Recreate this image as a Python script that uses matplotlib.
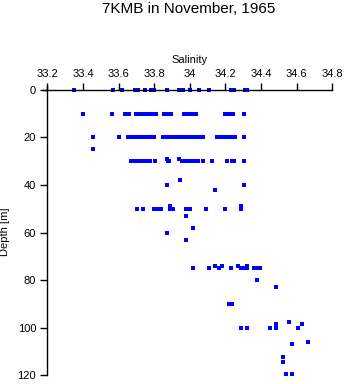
import numpy as np
import matplotlib
matplotlib.use("Agg")
import matplotlib.pyplot as plt
from matplotlib.ticker import FuncFormatter

plt.rcParams['font.family'] = ['Liberation Sans', 'DejaVu Sans']

# Salinity readings grouped by sampling depth (m)
sal_0 = [33.35, 33.57, 33.62, 33.69, 33.71, 33.75, 33.78, 33.80, 33.87, 33.94,
         33.96, 34.00, 34.05, 34.11, 34.23, 34.25, 34.31, 34.32]
sal_10 = [33.40, 33.565, 33.635, 33.65, 33.66, 33.70, 33.72, 33.735, 33.75, 33.77,
          33.78, 33.80, 33.81, 33.855, 33.87, 33.885, 33.895, 33.965, 33.98,
          33.99, 34.015, 34.035, 34.20, 34.22, 34.24, 34.306]
sal_20 = [33.455, 33.60, 33.655, 33.668, 33.683, 33.705, 33.72, 33.739, 33.758,
          33.78, 33.80, 33.851, 33.866, 33.88, 33.90, 33.913, 33.93, 33.945,
          33.964, 33.983, 34.002, 34.02, 34.039, 34.057, 34.076, 34.155, 34.17,
          34.185, 34.207, 34.226, 34.241, 34.254, 34.306]
sal_25 = [33.455]
sal_29 = [33.87, 33.941]
sal_30 = [33.668, 33.683, 33.698, 33.711, 33.724, 33.739, 33.761, 33.777, 33.805,
          33.875, 33.885, 33.955, 33.973, 33.992, 34.01, 34.03, 34.048, 34.076,
          34.123, 34.207, 34.235, 34.25, 34.306]
sal_38 = [33.947]
sal_40 = [33.874, 34.306]
sal_42 = [34.143]
sal_49 = [33.889, 34.286]
sal_50 = [33.705, 33.739, 33.80, 33.812, 33.825, 33.84, 33.89, 33.905, 33.979,
          33.992, 34.001, 34.091, 34.20, 34.286]
sal_53 = [33.98]
sal_58 = [34.018]
sal_60 = [33.874]
sal_63 = [33.98]
sal_74 = [34.143, 34.181, 34.271, 34.323]
sal_75 = [34.018, 34.11, 34.162, 34.233, 34.289, 34.305, 34.323, 34.36, 34.379,
          34.394]
sal_80 = [34.379]
sal_83 = [34.486]
sal_90 = [34.218, 34.235]
sal_97 = [34.559]
sal_98 = [34.486, 34.632]
sal_100 = [34.289, 34.323, 34.452, 34.486, 34.609]
sal_106 = [34.666]
sal_107 = [34.576]
sal_112 = [34.523]
sal_115 = [34.523]
sal_120 = [34.54, 34.576]

depth_levels = [0, 10, 20, 25, 29.3, 30, 38, 40, 42, 49, 50, 53, 58, 60, 63,
                74, 75, 80, 83, 90, 97.5, 98.5, 100, 106, 107, 112.5, 114.6, 119.5]
sal_groups = [sal_0, sal_10, sal_20, sal_25, sal_29, sal_30, sal_38, sal_40,
              sal_42, sal_49, sal_50, sal_53, sal_58, sal_60, sal_63, sal_74,
              sal_75, sal_80, sal_83, sal_90, sal_97, sal_98, sal_100, sal_106,
              sal_107, sal_112, sal_115, sal_120]

x_ticks = [33.2, 33.4, 33.6, 33.8, 34.0, 34.2, 34.4, 34.6, 34.8]
y_ticks = [0, 20, 40, 60, 80, 100, 120]

W, H = 346, 384
fig = plt.figure(figsize=(W / 100, H / 100), dpi=100)
left_px, right_px, top_px, bot_px = 43.0, 332.3, 85.5, 375.3
ax = fig.add_axes([left_px / W, 1 - bot_px / H,
                   (right_px - left_px) / W, (bot_px - top_px) / H])

sal = np.concatenate([np.asarray(g, float) for g in sal_groups])
dep = np.concatenate([np.full(len(g), d, float) for g, d in zip(sal_groups, depth_levels)])
ax.plot(sal, dep, linestyle='none', marker='s', markersize=2.3,
        markeredgewidth=0, color='#0000ff', clip_on=False, antialiased=False)

ax.set_xlim(33.176, 34.8)
ax.set_ylim(120, -1.8)

ax.spines['right'].set_visible(False)
ax.spines['bottom'].set_visible(False)
ax.spines['top'].set_position(('data', 0))
ax.spines['left'].set_position(('data', 33.2))
for s in ('top', 'left'):
    ax.spines[s].set_linewidth(1.0)

ax.xaxis.tick_top()
ax.set_xticks(x_ticks)
ax.xaxis.set_major_formatter(FuncFormatter(lambda v, p: f"{v:g}"))
ax.set_yticks(y_ticks)
ax.tick_params(axis='x', direction='out', length=5, width=1, pad=3.0,
               labelsize=8, colors='black')
ax.tick_params(axis='y', direction='out', length=5, width=1, pad=3.0,
               labelsize=8, colors='black')
ax.patch.set_visible(False)

fig.text(189 / W, 1 - 9 / H, "7KMB in November, 1965", ha='center', va='center',
         fontsize=11)
fig.text(190 / W, 1 - 60 / H, "Salinity", ha='center', va='center', fontsize=8)
fig.text(5.5 / W, 1 - 232 / H, "Depth [m]", ha='center', va='center',
         rotation=90, fontsize=8)

fig.savefig("out.png", dpi=100, facecolor='white')
